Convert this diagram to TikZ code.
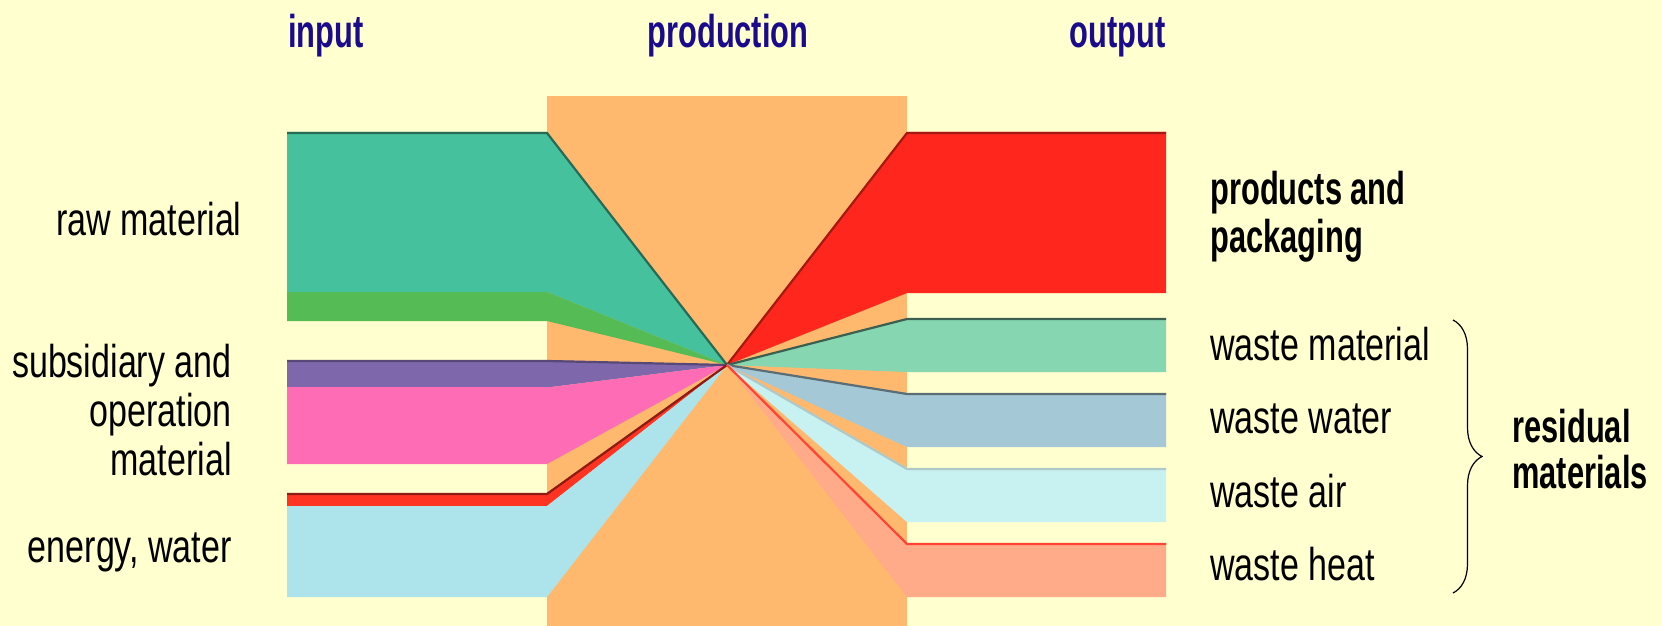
\documentclass[tikz,border=0pt]{standalone}
\usepackage{fontspec}
\usetikzlibrary{decorations.pathreplacing}

\newfontfamily\lblfont[FakeStretch=0.74]{Liberation Sans}
\newfontfamily\bldfont[FakeStretch=0.67]{Liberation Sans}

\definecolor{paper}{HTML}{FFFFD0}
\definecolor{navy}{HTML}{1A0A8C}
\definecolor{block}{HTML}{FFB96E}
\definecolor{rawc}{HTML}{45C29D}
\definecolor{rawd}{HTML}{55BB55}
\definecolor{subc}{HTML}{7E67AB}
\definecolor{subd}{HTML}{FF6CB6}
\definecolor{enec}{HTML}{FF3322}
\definecolor{ened}{HTML}{ADE4EB}
\definecolor{prodc}{HTML}{FF261E}
\definecolor{wmatc}{HTML}{85D6B1}
\definecolor{wwatc}{HTML}{A5C8D6}
\definecolor{waircol}{HTML}{C8F1F1}
\definecolor{wheatc}{HTML}{FFAA88}

\tikzset{
	lbl/.style = {inner sep = 0, font = \lblfont\fontsize{23}{24}\selectfont},
	bld/.style = {inner sep = 0, font = \bldfont\bfseries\fontsize{23}{24}\selectfont},
	head/.style = {bld, text = navy},
	rim/.style = {line width = 1.1pt, line join = miter}
}

\begin{document}
\begin{tikzpicture}[x = 0.5pt, y = -0.5pt]
	\fill[paper] (0,0) rectangle (1662,626);
	\useasboundingbox (0,0) rectangle (1662,626);
	\fill[block] (547,96) rectangle (907,626);
	\coordinate (hub) at (727,365);

	\fill[rawc] (287,132) -- (547,132) -- (hub) -- (547,292) -- (287,292) -- cycle;
	\fill[rawd] (287,292) -- (547,292) -- (hub) -- (547,321) -- (287,321) -- cycle;
	\fill[subc] (287,360) -- (547,360) -- (hub) -- (551,387) -- (287,387) -- cycle;
	\fill[subd] (287,387) -- (551,387) -- (hub) -- (547,464) -- (287,464) -- cycle;
	\fill[enec] (287,493) -- (547,493) -- (hub) -- (547,506) -- (287,506) -- cycle;
	\fill[ened] (287,506) -- (547,506) -- (hub) -- (547,597) -- (287,597) -- cycle;
	\draw[rim, rawc!55!black] (287,133) -- (547,133) -- (hub);
	\draw[rim, subc!70!black] (287,361) -- (547,361) -- (hub);
	\draw[rim, enec!55!black] (287,494) -- (547,494) -- (hub);

	\fill[prodc] (hub) -- (907,132) -- (1166,132) -- (1166,293) -- (907,293) -- cycle;
	\fill[wmatc] (hub) -- (907,318) -- (1166,318) -- (1166,372) -- (907,372) -- cycle;
	\fill[wwatc] (hub) -- (907,393) -- (1166,393) -- (1166,447) -- (907,447) -- cycle;
	\fill[waircol] (hub) -- (907,468) -- (1166,468) -- (1166,522) -- (907,522) -- cycle;
	\fill[wheatc] (hub) -- (907,543) -- (1166,543) -- (1166,597) -- (907,597) -- cycle;
	\draw[rim, prodc!65!black] (hub) -- (907,133) -- (1166,133);
	\draw[rim, wmatc!45!black] (hub) -- (907,319) -- (1166,319);
	\draw[rim, wwatc!55!black] (hub) -- (907,394) -- (1166,394);
	\draw[rim, waircol!65!gray] (hub) -- (907,469) -- (1166,469);
	\draw[rim, wheatc!40!red] (hub) -- (907,544) -- (1166,544);

	\node[head, anchor = base west] (input) at (288,48) {input};
	\node[head, anchor = base] (production) at (728,48) {production};
	\node[head, anchor = base east] (output) at (1166,48) {output};

	\node[lbl, anchor = base east] (raw) at (242,235) {raw material};
	\node[lbl, anchor = base east] (subsid) at (232,377) {subsidiary and};
	\node[lbl, anchor = base east] (operation) at (232,426) {operation};
	\node[lbl, anchor = base east] (material) at (232,475) {material};
	\node[lbl, anchor = base east] (energy) at (232,562) {energy, water};

	\node[bld, anchor = base west] (products) at (1210,205) {products and};
	\node[bld, anchor = base west] (packaging) at (1210,253) {packaging};
	\node[lbl, anchor = base west] (wmat) at (1210,360) {waste material};
	\node[lbl, anchor = base west] (wwat) at (1210,433) {waste water};
	\node[lbl, anchor = base west] (wair) at (1210,507) {waste air};
	\node[lbl, anchor = base west] (wheat) at (1210,580) {waste heat};

	\coordinate (btop) at (1453,320);
	\coordinate (bbot) at (1453,593);
	\draw[line width = 0.6pt, decorate, decoration = {brace, amplitude = 14.5pt}] (btop) -- (bbot);
	\node[bld, anchor = base west] (residual) at (1512,442) {residual};
	\node[bld, anchor = base west] (materials) at (1512,488) {materials};
\end{tikzpicture}
\end{document}
